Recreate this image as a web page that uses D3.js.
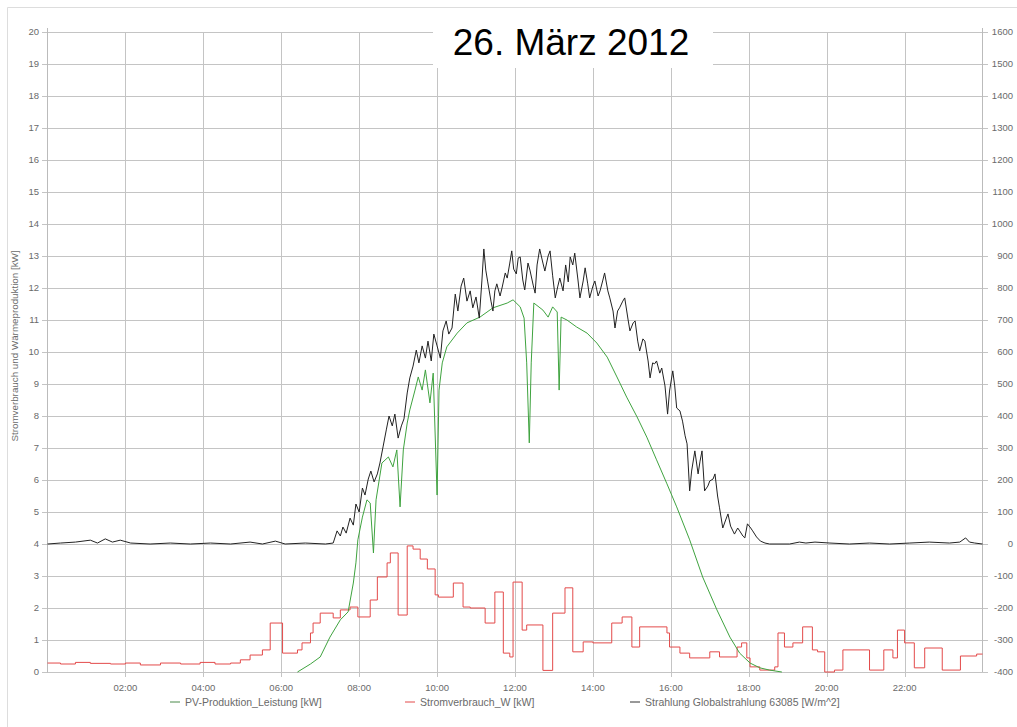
<!DOCTYPE html>
<meta charset="utf-8">
<style>

body { margin: 0; background: #fff; }
text {
  font: 9.5px "Liberation Sans", Arial, sans-serif;
  fill: #6a6a6a;
}
.legend text { font-size: 10.5px; }
.title {
  font: 37px "Liberation Sans", Arial, sans-serif;
  fill: #000;
}

</style>
<svg width="1017" height="727"></svg>
<script src="https://d3js.org/d3.v7.min.js"></script>
<script>

// time in minutes after midnight
var xLabels = ["02:00", "04:00", "06:00", "08:00", "10:00", "12:00", "14:00", "16:00", "18:00", "20:00", "22:00"];
var leftTicks = d3.range(0, 21);
var rightTicks = d3.range(-400, 1601, 100);

// PV-Produktion_Leistung [kW], left axis
var pvProduktion = [
  [385, 0], [405, 0.25], [420, 0.47], [435, 1.09], [451, 1.63], [463, 1.88], [471, 2.78],
  [475, 3.41], [478, 4.13], [485, 4.84], [492, 5.38], [497, 5.28], [502, 3.72], [506, 5.38],
  [515, 6.53], [525, 6.72], [532, 6.41], [538, 6.94], [543, 5.16], [548, 6.94], [554, 7.78],
  [558, 8.19], [566, 8.81], [571, 9.22], [577, 8.81], [582, 9.44], [589, 8.41], [594, 9.34],
  [600, 5.53], [603, 8.81], [608, 9.66], [615, 10.16], [631, 10.59], [646, 10.91], [666, 11.09],
  [686, 11.38], [708, 11.53], [717, 11.63], [728, 11.41], [734, 11.06], [738, 9.66], [742, 7.16],
  [745, 9.66], [749, 11.53], [763, 11.31], [771, 11.09], [778, 11.41], [785, 11.25], [788, 8.81],
  [791, 11.09], [800, 11.0], [815, 10.78], [831, 10.59], [846, 10.28], [862, 9.84], [877, 9.22],
  [892, 8.59], [908, 7.97], [923, 7.34], [938, 6.63], [954, 5.88], [969, 5.16], [989, 4.13],
  [1009, 2.97], [1031, 1.94], [1051, 1.09], [1066, 0.59], [1082, 0.28], [1097, 0.13],
  [1112, 0.06], [1131, 0]
];

// Stromverbrauch_W [kW], left axis, step values (start minute, value)
var stromverbrauch = [
  [0, 0.28], [20, 0.25], [43, 0.3], [66, 0.27], [97, 0.25], [120, 0.28], [143, 0.22], [174, 0.28],
  [205, 0.25], [235, 0.3], [258, 0.25], [282, 0.28], [297, 0.38], [312, 0.53], [331, 0.69],
  [343, 1.53], [362, 0.59], [385, 0.69], [392, 0.91], [405, 1.22], [409, 1.53], [420, 1.84],
  [440, 1.69], [451, 1.94], [466, 2.03], [478, 1.72], [497, 2.25], [508, 2.97], [523, 3.41],
  [528, 3.72], [540, 1.78], [554, 3.94], [563, 3.84], [574, 3.53], [585, 3.22], [597, 2.41],
  [602, 2.34], [625, 2.78], [640, 2.03], [651, 2.0], [674, 1.53], [689, 2.5], [702, 0.59],
  [712, 0.47], [717, 2.81], [731, 1.31], [738, 1.47], [763, 0.05], [778, 1.84], [797, 2.63],
  [809, 0.63], [825, 0.94], [840, 0.91], [869, 1.53], [885, 1.72], [900, 0.78], [912, 1.41],
  [954, 1.22], [958, 0.78], [974, 0.59], [989, 0.44], [1020, 0.63], [1035, 0.47], [1062, 0.78],
  [1069, 0.91], [1077, 0.44], [1082, 0.16], [1097, 0.06], [1120, 0.16], [1125, 1.22],
  [1135, 0.78], [1148, 0.91], [1163, 1.41], [1178, 0.69], [1186, 0.63], [1197, 0.0],
  [1212, 0.06], [1225, 0.69], [1266, 0.06], [1288, 0.69], [1302, 0.44], [1309, 1.31],
  [1320, 0.91], [1335, 0.13], [1351, 0.75], [1378, 0.06], [1406, 0.5], [1431, 0.56], [1440, 0.56]
];

// Strahlung Globalstrahlung 63085 [W/m^2], right axis
var strahlung = [
  [0, 0], [20, 3], [43, 6], [66, 12], [77, 3], [89, 16], [100, 6], [112, 12], [128, 3], [158, 0],
  [189, 3], [220, 0], [251, 3], [282, 0], [312, 6], [331, 0], [351, 9], [366, 0], [397, 3],
  [428, 0], [440, 3], [446, 41], [451, 25], [455, 53], [460, 34], [466, 81], [471, 59], [475, 125],
  [480, 100], [485, 175], [489, 153], [494, 203], [498, 228], [503, 194], [508, 219], [512, 253],
  [517, 306], [522, 359], [526, 400], [531, 369], [535, 406], [540, 331], [545, 369], [549, 391],
  [554, 472], [558, 519], [563, 556], [568, 606], [572, 566], [577, 619], [582, 581], [586, 634],
  [591, 572], [595, 656], [600, 619], [605, 581], [609, 666], [614, 697], [618, 656], [623, 675],
  [628, 781], [632, 728], [637, 806], [641, 831], [646, 759], [651, 791], [655, 738], [660, 772],
  [665, 706], [669, 822], [672, 922], [675, 856], [678, 819], [683, 759], [686, 728], [689, 791],
  [692, 813], [697, 775], [700, 800], [705, 847], [708, 831], [712, 878], [715, 916], [718, 859],
  [722, 844], [725, 894], [728, 897], [732, 825], [735, 794], [740, 878], [743, 856], [748, 809],
  [751, 784], [754, 872], [758, 922], [763, 878], [766, 853], [771, 900], [774, 916], [778, 838],
  [782, 769], [786, 806], [789, 831], [794, 791], [798, 872], [802, 819], [805, 897], [809, 872],
  [812, 909], [817, 825], [820, 769], [825, 822], [828, 863], [832, 813], [835, 769], [840, 806],
  [843, 822], [848, 775], [851, 791], [855, 822], [858, 847], [863, 791], [866, 769], [871, 728],
  [874, 675], [878, 728], [881, 738], [886, 759], [889, 769], [894, 703], [897, 666], [902, 691],
  [905, 697], [909, 634], [912, 603], [917, 641], [920, 634], [925, 572], [928, 519], [932, 566],
  [935, 563], [938, 572], [943, 534], [946, 550], [951, 494], [955, 406], [958, 478], [963, 541],
  [966, 494], [969, 425], [974, 416], [978, 384], [982, 338], [985, 313], [989, 166], [992, 228],
  [997, 291], [1002, 219], [1005, 259], [1008, 291], [1012, 166], [1017, 181], [1020, 197],
  [1025, 203], [1028, 219], [1032, 150], [1035, 113], [1040, 50], [1045, 78], [1048, 94],
  [1052, 56], [1058, 31], [1063, 50], [1066, 41], [1071, 25], [1074, 19], [1078, 63], [1083, 50],
  [1086, 41], [1092, 22], [1098, 9], [1105, 3], [1112, 0], [1143, 0], [1158, 6], [1168, 3],
  [1182, 6], [1205, 3], [1235, 0], [1266, 3], [1297, 0], [1328, 3], [1358, 6], [1389, 3],
  [1405, 6], [1414, 19], [1420, 6], [1428, 3], [1440, 0]
];

var legendItems = [
  {name: "PV-Produktion_Leistung [kW]", color: "#4a8a4a", x: 170},
  {name: "Stromverbrauch_W [kW]", color: "#e34a4a", x: 405},
  {name: "Strahlung Globalstrahlung 63085 [W/m^2]", color: "#333", x: 630}
];

var svg = d3.select("svg");

var x = d3.scaleLinear().domain([0, 1440]).range([47.5, 982.5]),
    yL = d3.scaleLinear().domain([0, 20]).range([672, 32]),
    yR = d3.scaleLinear().domain([-400, 1600]).range([672, 32]);

// outer frame
svg.append("path")
    .attr("d", "M7.5,727 V7.5 H1017")
    .attr("fill", "none")
    .attr("stroke", "#ddd");

// horizontal grid + left ticks
svg.append("g")
  .selectAll("line")
  .data(leftTicks)
  .enter().append("line")
    .attr("x1", 42).attr("x2", 982.5)
    .attr("y1", function(d) { return Math.round(yL(d)) + 0.5; })
    .attr("y2", function(d) { return Math.round(yL(d)) + 0.5; })
    .attr("stroke", "#c4c4c4");

// right ticks
svg.append("g")
  .selectAll("line")
  .data(rightTicks)
  .enter().append("line")
    .attr("x1", 982.5).attr("x2", 988)
    .attr("y1", function(d) { return Math.round(yR(d)) + 0.5; })
    .attr("y2", function(d) { return Math.round(yR(d)) + 0.5; })
    .attr("stroke", "#c4c4c4");

// vertical grid
var xTickPos = xLabels.map(function(d, i) { return (i + 1) * 120; });
svg.append("g")
  .selectAll("line")
  .data(xTickPos)
  .enter().append("line")
    .attr("x1", function(d) { return Math.round(x(d)) + 0.5; })
    .attr("x2", function(d) { return Math.round(x(d)) + 0.5; })
    .attr("y1", 32).attr("y2", 677)
    .attr("stroke", "#c4c4c4");

// axis lines
svg.append("line").attr("x1", 47.5).attr("x2", 47.5).attr("y1", 28).attr("y2", 672.5).attr("stroke", "#bbb");
svg.append("line").attr("x1", 982.5).attr("x2", 982.5).attr("y1", 28).attr("y2", 672.5).attr("stroke", "#bbb");

// tick labels
svg.append("g")
  .selectAll("text")
  .data(leftTicks)
  .enter().append("text")
    .attr("x", 39)
    .attr("y", function(d) { return yL(d) + 3; })
    .attr("text-anchor", "end")
    .text(function(d) { return d; });

svg.append("g")
  .selectAll("text")
  .data(rightTicks)
  .enter().append("text")
    .attr("x", 1013)
    .attr("y", function(d) { return yR(d) + 3; })
    .attr("text-anchor", "end")
    .text(function(d) { return d; });

svg.append("g")
  .selectAll("text")
  .data(xLabels)
  .enter().append("text")
    .attr("x", function(d, i) { return x(xTickPos[i]); })
    .attr("y", 691)
    .attr("text-anchor", "middle")
    .text(function(d) { return d; });

svg.append("text")
    .attr("transform", "translate(18,346) rotate(-90)")
    .attr("text-anchor", "middle")
    .style("font-size", "9.8px")
    .text("Stromverbrauch und Wärmeproduktion [kW]");

// series
svg.append("clipPath").attr("id", "plot")
  .append("rect").attr("x", 47).attr("y", 30).attr("width", 936).attr("height", 643);

var plot = svg.append("g").attr("clip-path", "url(#plot)");

plot.append("path")
    .datum(stromverbrauch)
    .attr("fill", "none")
    .attr("stroke", "#e34a4a")
    .attr("stroke-width", 1)
    .attr("d", d3.line()
        .curve(d3.curveStepAfter)
        .x(function(d) { return x(d[0]); })
        .y(function(d) { return yL(d[1]); }));

plot.append("path")
    .datum(pvProduktion)
    .attr("fill", "none")
    .attr("stroke", "#3fa33f")
    .attr("stroke-width", 1)
    .attr("d", d3.line()
        .x(function(d) { return x(d[0]); })
        .y(function(d) { return yL(d[1]); }));

plot.append("path")
    .datum(strahlung)
    .attr("fill", "none")
    .attr("stroke", "#222")
    .attr("stroke-width", 1)
    .attr("d", d3.line()
        .x(function(d) { return x(d[0]); })
        .y(function(d) { return yR(d[1]); }));

// legend
var legend = svg.append("g")
    .attr("class", "legend")
  .selectAll("g")
  .data(legendItems)
  .enter().append("g")
    .attr("transform", function(d) { return "translate(" + d.x + ",702)"; });

legend.append("line")
    .attr("x1", 0).attr("x2", 10)
    .attr("stroke", function(d) { return d.color; });

legend.append("text")
    .attr("x", 15)
    .attr("y", 3.5)
    .text(function(d) { return d.name; });

// title box
svg.append("rect")
    .attr("x", 433).attr("y", 9)
    .attr("width", 280).attr("height", 59)
    .attr("fill", "#fff");

svg.append("text")
    .attr("class", "title")
    .attr("x", 571)
    .attr("y", 55)
    .attr("text-anchor", "middle")
    .text("26. März 2012");

</script>
